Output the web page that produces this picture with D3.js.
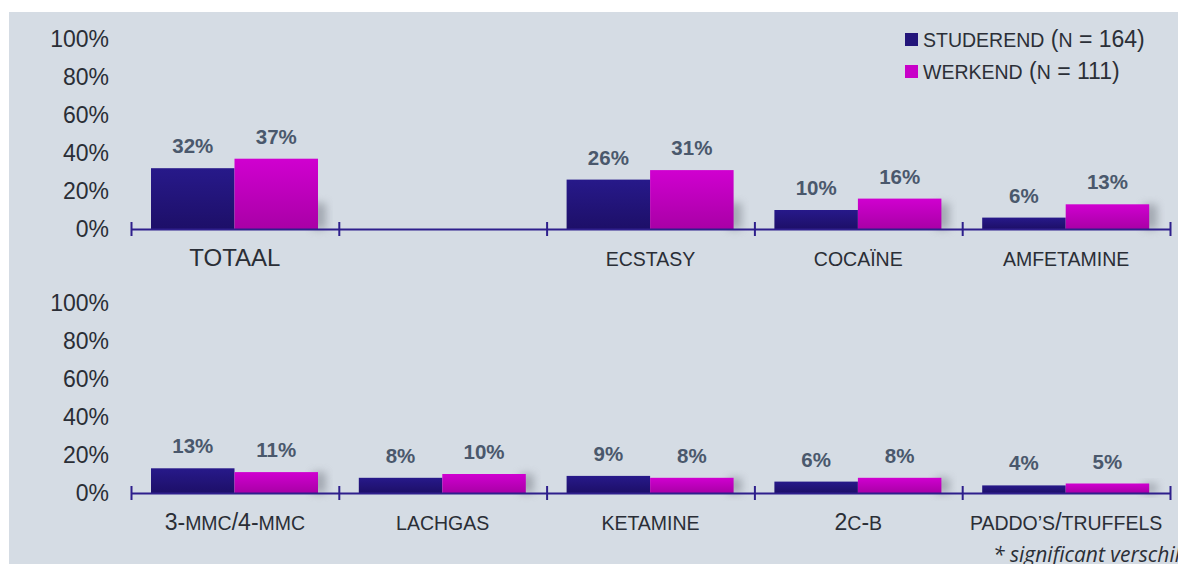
<!DOCTYPE html>
<html>
<head>
<meta charset="utf-8">
<script src="https://cdn.jsdelivr.net/npm/d3@7"></script>
<style>
  html, body { margin: 0; padding: 0; background: #fff; overflow: hidden; }
  svg { display: block; font-family: "Liberation Sans", Arial, sans-serif; }
</style>
</head>
<body>
<div id="chart"></div>
<script>
// data
const series = ['STUDEREND (N = 164)', 'WERKEND (N = 111)']
const topCategories = ['TOTAAL', '', 'ECSTASY', 'COCAÏNE', 'AMFETAMINE']
const topStuderend = [32, null, 26, 10, 6]
const topWerkend = [37, null, 31, 16, 13]
const bottomCategories = ['3-MMC/4-MMC', 'LACHGAS', 'KETAMINE', '2C-B', 'PADDO’S/TRUFFELS']
const bottomStuderend = [13, 8, 9, 6, 4]
const bottomWerkend = [11, 10, 8, 8, 5]
const yTicks = [0, 20, 40, 60, 80, 100]
const footnote = '* significant verschil'

const width = 1178
const height = 564
const colors = ['url(#gradBlue)', 'url(#gradMagenta)']
const legendColors = ['#23157a', '#c800c8']

const svg = d3.select('#chart')
  .append('svg')
  .attr('width', width)
  .attr('height', height)

const defs = svg.append('defs')
function gradient (id, top, bottom) {
  const g = defs.append('linearGradient')
    .attr('id', id)
    .attr('x1', 0).attr('y1', 0).attr('x2', 0).attr('y2', 1)
  g.append('stop').attr('offset', '0%').attr('stop-color', top)
  g.append('stop').attr('offset', '100%').attr('stop-color', bottom)
}
gradient('gradBlue', '#27198a', '#1d0f68')
gradient('gradMagenta', '#d000d0', '#a900a6')
defs.append('filter')
  .attr('id', 'blur')
  .attr('x', '-50%').attr('y', '-50%').attr('width', '200%').attr('height', '200%')
  .append('feGaussianBlur')
  .attr('stdDeviation', 4)

// small caps look: letters smaller, digits and signs full size
function smallCaps (sel, letterSize, otherSize) {
  sel.each(function (d) {
    const t = d3.select(this)
    const parts = String(d.label).match(/([A-ZÀ-Ý’']+|[^A-ZÀ-Ý’']+)/g) || []
    parts.forEach(p => {
      t.append('tspan')
        .attr('font-size', /[A-ZÀ-Ý’']/.test(p) ? letterSize : otherSize)
        .text(p)
    })
  })
}

// panel
svg.append('rect')
  .attr('x', 9)
  .attr('y', 12)
  .attr('width', width - 9)
  .attr('height', height - 12)
  .attr('fill', '#d5dce4')

const x = d3.scaleBand()
  .domain(d3.range(5))
  .range([131, 1170])
const xEdges = d3.scaleLinear()
  .domain([0, 5])
  .range([131, 1170])
const xSub = d3.scaleBand()
  .domain([0, 1])
  .range([20, 187])

// legend
const legend = svg.append('g')
  .selectAll('g')
  .data(series)
  .join('g')
  .attr('transform', (d, i) => `translate(905, ${33 + i * 32})`)
legend.append('rect')
  .attr('width', 13)
  .attr('height', 13)
  .attr('fill', (d, i) => legendColors[i])
legend.append('text')
  .datum(d => ({ label: d }))
  .attr('x', 18)
  .attr('y', 14)
  .attr('fill', '#2b2f37')
  .call(smallCaps, 19.5, 23)

function drawPanel (categories, valuesA, valuesB, y0, y100) {
  const y = d3.scaleLinear()
    .domain([0, 100])
    .range([y0, y100])
  const g = svg.append('g')

  // y axis labels
  g.append('g')
    .attr('transform', 'translate(131,0)')
    .call(d3.axisLeft(y).tickValues(yTicks).tickSize(0).tickPadding(22).tickFormat(d => d + '%'))
    .call(a => a.select('.domain').remove())
    .call(a => a.selectAll('text')
      .attr('font-family', '"Liberation Sans", Arial, sans-serif')
      .attr('font-size', 23)
      .attr('fill', '#2a2e36'))

  const rows = categories.map((c, i) => ({
    i: i,
    label: c,
    values: [valuesA[i], valuesB[i]]
  }))

  const groups = g.selectAll('.grp')
    .data(rows)
    .join('g')
    .attr('class', 'grp')
    .attr('transform', d => `translate(${x(d.i)},0)`)

  // soft shadow at the lower right of each pair
  groups.filter(d => d.values[1] != null)
    .append('rect')
    .attr('x', xSub(1) + xSub.bandwidth() - 6)
    .attr('y', d => Math.max(y(d.values[1]), y0 - 26))
    .attr('width', 14)
    .attr('height', d => y0 - Math.max(y(d.values[1]), y0 - 26))
    .attr('fill', '#80858f')
    .attr('opacity', 0.6)
    .attr('filter', 'url(#blur)')

  groups.selectAll('.bar')
    .data(d => d.values.map((v, j) => ({ v: v, j: j })).filter(e => e.v != null))
    .join('rect')
    .attr('class', 'bar')
    .attr('x', e => xSub(e.j))
    .attr('width', xSub.bandwidth())
    .attr('y', e => y(e.v))
    .attr('height', e => y0 - y(e.v))
    .attr('fill', e => colors[e.j])

  groups.selectAll('.val')
    .data(d => d.values.map((v, j) => ({ v: v, j: j })).filter(e => e.v != null))
    .join('text')
    .attr('class', 'val')
    .attr('x', e => xSub(e.j) + xSub.bandwidth() / 2)
    .attr('y', e => y(e.v) - 15)
    .attr('text-anchor', 'middle')
    .attr('font-size', 20.5)
    .attr('font-weight', 'bold')
    .attr('fill', '#4a586c')
    .text(e => e.v + '%')

  // x axis with edge ticks
  g.append('g')
    .attr('transform', `translate(0,${y0})`)
    .call(d3.axisBottom(xEdges).ticks(5).tickSizeOuter(0).tickFormat(''))
    .call(a => a.select('.domain').attr('stroke', '#2e1f8c').attr('stroke-width', 2))
    .call(a => a.selectAll('.tick line')
      .attr('stroke', '#2e1f8c')
      .attr('stroke-width', 2)
      .attr('y1', -7)
      .attr('y2', 7))

  // category labels
  const labels = g.selectAll('.cat')
    .data(rows)
    .join('text')
    .attr('class', 'cat')
    .attr('x', d => x(d.i) + x.bandwidth() / 2)
    .attr('y', y0 + 37)
    .attr('text-anchor', 'middle')
    .attr('fill', '#2a2e36')
  labels.filter(d => d.label === 'TOTAAL')
    .append('tspan')
    .attr('font-size', 24)
    .text(d => d.label)
  labels.filter(d => d.label !== 'TOTAAL')
    .call(smallCaps, 19.5, 23)
}

drawPanel(topCategories, topStuderend, topWerkend, 229, 39)
drawPanel(bottomCategories, bottomStuderend, bottomWerkend, 493, 303)

svg.append('text')
  .attr('x', 993)
  .attr('y', 562)
  .attr('font-family', '"Open Sans", sans-serif')
  .attr('font-style', 'italic')
  .attr('font-size', 21)
  .attr('fill', '#2a2e36')
  .text(footnote)
</script>
</body>
</html>
